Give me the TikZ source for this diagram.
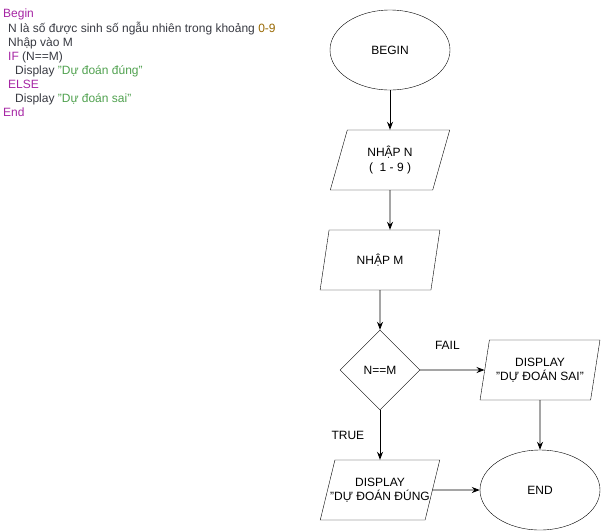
\documentclass[tikz,border=0pt]{standalone}
\usepackage{fontspec}
\setmainfont{Liberation Sans}
\usetikzlibrary{shapes.geometric, arrows.meta}
\definecolor{kwpurple}{HTML}{A626A4}
\definecolor{strgreen}{HTML}{50A14F}
\definecolor{numolive}{HTML}{986801}
\definecolor{codegray}{HTML}{383A42}
\tikzset{
  >={Stealth[length=8pt,width=6pt]},
  x=1pt, y=-1pt,
  every node/.style={font=\fontsize{12}{14.1}\selectfont},
  terminal/.style={draw, ellipse, minimum width=120pt, minimum height=80pt, inner sep=0pt},
  io/.style={draw, trapezium, trapezium left angle=71.57, trapezium right angle=108.43,
    trapezium stretches=true, minimum width=120pt, minimum height=60pt, inner sep=0pt, align=center},
  decision/.style={draw, diamond, minimum width=80pt, minimum height=80pt, inner sep=0pt},
  flow/.style={->, line width=0.9pt},
}

\begin{document}
\begin{tikzpicture}
	\useasboundingbox (0,0) rectangle (601,531);

	% pseudo code
	\node[anchor=north west, align=left, text=codegray, inner sep=0pt] (code) at (3,9) {%
		{\color{kwpurple}Begin}\\
		\hspace*{5pt}N là số được sinh số ngẫu nhiên trong khoảng {\color{numolive}0-9}\\
		\hspace*{5pt}Nhập vào M\\
		\hspace*{5pt}{\color{kwpurple}IF} (N==M)\\
		\hspace*{12pt}Display {\color{strgreen}"Dự đoán đúng"}\\
		\hspace*{5pt}{\color{kwpurple}ELSE}\\
		\hspace*{12pt}Display {\color{strgreen}"Dự đoán sai"}\\
		{\color{kwpurple}End}};

	% shapes
	\node[terminal] (begin) at (390,50) {BEGIN};
	\node[io] (nhapn) at (390,160) {NHẬP N\\(\ \ 1 - 9 )};
	\node[io] (nhapm) at (380,260) {NHẬP M};
	\node[decision] (cmp) at (380,370) {N==M};
	\node[io] (sai) at (540,370) {DISPLAY\\"DỰ ĐOÁN SAI"};
	\node[io] (dung) at (380,490) {DISPLAY\\\makebox[0pt]{"DỰ ĐOÁN ĐÚNG}};
	\node[terminal] (stop) at (540,490) {END};

	% arrows
	\draw[flow] (begin) -- (nhapn);
	\draw[flow] (nhapn) -- (nhapn |- nhapm.north);
	\draw[flow] (nhapm) -- (cmp);
	\draw[flow] (cmp) -- node[above=17pt, xshift=-5pt] {FAIL} (sai);
	\draw[flow] (cmp) -- node[left=12pt] {TRUE} (dung);
	\draw[flow] (sai) -- (stop);
	\draw[flow] (dung) -- (stop);

\end{tikzpicture}
\end{document}
